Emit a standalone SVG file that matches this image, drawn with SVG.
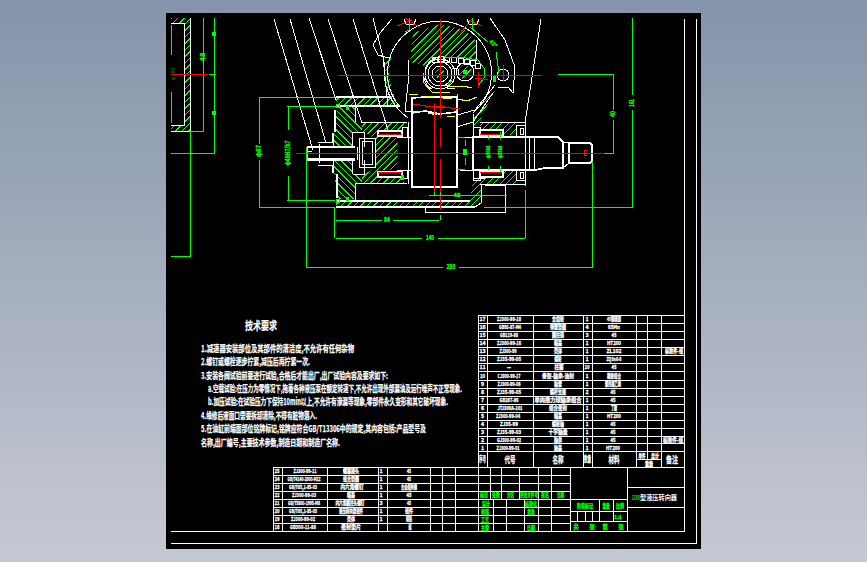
<svg xmlns="http://www.w3.org/2000/svg" width="867" height="562" viewBox="0 0 867 562" shape-rendering="crispEdges">
<style>
.w{fill:none;stroke:#fff;stroke-width:1}
.t{fill:none;stroke:#fff;stroke-width:1.6}
.g{fill:none;stroke:#0f0;stroke-width:1}
.r{fill:none;stroke:#f00;stroke-width:1}
.y{fill:none;stroke:#ff0;stroke-width:1}
.k{fill:#000;stroke:#fff;stroke-width:1}
.h{fill:none;stroke:#0f0;stroke-width:1300;stroke-dasharray:1 3.6}
.gf{fill:#0f0}
text{font-family:"Noto Sans CJK SC","Liberation Sans",sans-serif;font-weight:700}
.x{fill:#fff;stroke:#fff;stroke-width:.3;font-size:5.200px;text-anchor:middle}
.n{fill:#fff;stroke:#fff;stroke-width:.25;font-size:9px}
.d{fill:#0f0;stroke:#0f0;stroke-width:.3;font-size:6.500px;text-anchor:middle}
.c{fill:#0f0;stroke:#0f0;stroke-width:.3;font-size:5.200px;text-anchor:middle}
</style>
<defs>
<linearGradient id="bg" x1="0" y1="0" x2="0" y2="1"><stop offset="0" stop-color="#8494aa"/><stop offset="1" stop-color="#c6c9d3"/></linearGradient>
<clipPath id="cf">
<polygon points="171,18 190,18 190,131 171,131 171,125 184,125 184,23 171,23"/>
<polygon points="336,97 380,97 386,90 385,58 391,58 389,75 392,90 399,106 336,106"/>
<polygon points="336,201 470,201 473,178 485,178 482,185 481,203 475,207 336,207"/>
<polygon points="362,122 405,122 402,131 378,131 378,137 372,137 364,132 362,132"/>
<polygon points="362,183 405,183 402,177 378,177 378,170 372,170 364,174 362,174"/>
<polygon points="375,137 396,137 398,145 397,153 398,160 396,170 375,170"/>
<polygon points="480,122 516,122 516,135 503,135 503,130 480,130"/>
<polygon points="480,184 516,184 516,171 503,171 503,176 480,176"/>
<polygon points="473,114 495,85 495,91 482,115 480,122 473,127"/>
<polygon points="410,62 413,33 440,24 465,30 477,42 476,62 470,60 440,57 425,66"/>
<polygon points="465,63 474,72 465,81 456,72"/>
<circle cx="440" cy="74" r="5"/>
</clipPath>
<clipPath id="cb">
<polygon points="337,107 355,107 355,122 362,122 362,132 352,132 352,147 333,147 333,133 335,132 335,125"/>
<polygon points="337,199 355,199 355,183 362,183 362,174 352,174 352,160 333,160 333,173 335,175 335,181"/>
</clipPath>
</defs>
<rect width="867" height="562" fill="url(#bg)"/>
<rect x="166" y="13" width="535" height="536" fill="#000"/>

<g id="frame">
<path class="w" d="M684 19V531H171M696 19V543H171"/>
</g>

<g id="hatching">
<g clip-path="url(#cf)"><path class="h" d="M0 0L900 900"/></g>
<g clip-path="url(#cb)"><path class="h" d="M0 900L900 0"/></g>
</g>

<g id="left-section">
<path class="w" d="M190 18V131H171M171 23H184V125H171"/>
<path class="g" d="M171 25V55M171 92V123M203 18V131H190M214 18V153H171M190 131V256H171"/>
<text class="d" transform="translate(205,57) rotate(-90)" textLength="9" lengthAdjust="spacingAndGlyphs">48</text>
<rect class="gf" x="212" y="32" width="4" height="4"/>
<rect class="gf" x="212" y="111" width="4" height="4"/>
<text transform="translate(175,74) rotate(-90)" style="fill:#0a6a0a;font-size:5px;text-anchor:middle">φ300</text>
<path class="r" d="M171 74H208"/>
<path class="g" d="M209 74H216"/>
</g>

<g id="assembly">
<g id="outlines">
<path class="w" d="M274 19L312 147M290 19L326 143M309 18L336 100M328 19L362 123M353 19L388 130M373 18L383 57L388 107"/>
<path class="w" d="M392 19L380 33L373 45L378 55L385 57L391 58"/>
<path class="w" d="M400 107A52 52 0 1 1 473 113"/>
<path class="w" d="M408 118A57 57 0 0 1 385 62"/>
<path class="w" d="M490 18L505 40L515 67L513 93L508 87L498 87M541 19L525 123M408 60L409 75L405 111M405 111H412"/>
<path class="w" d="M477 40L476 62M457 115L475 110L495 85M457 127L473 122L493 93"/>
<path class="t" d="M336 97H391M336 106H400M335 110V132M337 174V198M336 201H470M336 207H475"/>
<path class="w" d="M473 178H485M482 185L481 203L475 207M485 185H505V212H425V207"/>
<path class="w" d="M355 107V122M362 122H407M355 183V200M355 183H407M408 122V184M402 127H407V137H402ZM402 170H407V178H402ZM397 137H412M397 170H412"/>
<path class="t" d="M378 131H402V136H378ZM378 172H402V177H378Z"/>
<path class="w" d="M352 132V147M352 160V174M353 132H364V147M353 174H364V160M333 133V147M333 160V173M359 138H375V167H359ZM362 141H372V164H362ZM357 147V160"/>
<path class="t" d="M307 147H355M307 160H355M307 147V160"/>
<path class="w" d="M318 142H332V133M318 165H332V173M319 144V163M307 158H355M312 147V150M307 151H312"/>
<path class="t" d="M412 98L425 97H457V187H412ZM412 113L425 111L440 114L457 112"/>
<path class="w" d="M473 114V178M473 127H480V136H473ZM473 170H480V180H473ZM480 122H525M516 125H525V136H516ZM516 170H525V180H516ZM480 184H525M525 122V186M520 128H523V134H520ZM520 172H523V178H520Z"/>
<path class="t" d="M480 130H503V135H480ZM480 172H503V177H480Z"/>
<path class="t" d="M473 137H558L563 142V168H545L535 170H473Z"/>
<path class="w" d="M529 137V170M534 137V170M563 142L569 143M563 168L569 163"/>
<path class="t" d="M569 143H590L592 145V161L590 163H569Z"/>
<path class="w" d="M460 137H473M460 170H473"/>
</g>

<g id="gear">
<circle class="k" cx="435" cy="60" r="3"/><circle class="k" cx="441" cy="59" r="3"/><circle class="k" cx="447" cy="60" r="3"/><circle class="k" cx="454" cy="60" r="3"/><circle class="k" cx="461" cy="61" r="3"/><circle class="k" cx="467" cy="62" r="3"/><circle class="k" cx="473" cy="63" r="3"/><circle class="k" cx="478" cy="66" r="3"/>
<path class="w" d="M425 70A17 17 0 0 1 440 57M424 78A16 16 0 0 0 432 89"/>
<circle class="w" cx="440" cy="74" r="15"/><circle class="w" cx="440" cy="74" r="12"/><circle class="w" cx="440" cy="74" r="8"/>
<circle class="w" cx="455" cy="72" r="4"/>
<circle class="w" cx="465" cy="72" r="9"/>
<rect class="gf" x="463" y="70" width="4" height="4"/>
<path class="g" d="M445 58L460 57L478 60L484 68L484 78L478 86M448 86L452 80"/>
<circle class="w" cx="503" cy="75" r="6"/>
<path class="w" d="M447 88H455"/>
</g>

<g id="yellow">
<path class="y" d="M409 94L418 95M425 96L433 97M443 98L452 98M457 94L458 99L467 101L477 97M413 111L420 112M428 113L437 115M447 116L455 116M445 85L453 87L463 86L472 88M423 73V82L432 92L450 93"/>
</g>

<g id="centrelines">
<path class="r" d="M338 75H542M440 19V118M440 128V147M440 159V210M434 103V195M425 106H445M296 153H603"/>
<path class="r" d="M413 104L433 107L442 107L460 109M478 72V88M475 78L488 80M503 65V82"/>
<path class="r" d="M378 134H402M378 172H402M480 134H502M480 172H502"/>
<path class="r" d="M587 150A3 3 0 0 0 587 156"/>
<path class="r" d="M397 26L412 20M419 27L405 18M460 33L473 18M482 26L467 20"/>
</g>

<g id="top-marks">
<path class="w" d="M404 19L406 24H414L416 19M467 19L469 24H477L479 19"/>
<path class="g" d="M409 18V30L405 32M472 18V30M470 27L488 42M496 52L499 73"/>
<text class="c" transform="translate(492,45) rotate(45)">45°</text>
<rect class="gf" x="493" y="76" width="3" height="6"/>
<circle cx="338" cy="106" r="2" fill="none" stroke="#0f0"/>
<circle cx="338" cy="201" r="2" fill="none" stroke="#0f0"/>
<rect class="gf" x="346" y="106" width="3" height="4"/>
<rect class="gf" x="346" y="197" width="3" height="4"/>
</g>
</g>

<g id="dimensions">
<path class="g" d="M259 97H335M259 207H335M259 97V144M259 160V207M287 106H337M287 200H335M288 106V130M288 176V200"/>
<text class="d" transform="translate(261,151) rotate(-90)" textLength="12" lengthAdjust="spacingAndGlyphs">φ87</text>
<text class="d" transform="translate(290,153) rotate(-90)" textLength="25" lengthAdjust="spacingAndGlyphs">φ48H7/h7</text>
<path class="g" d="M334 207V238M336 220H382M393 220H439M440 215V220M336 238H422M438 238H525M525 190V238"/>
<text class="d" x="387" y="222" textLength="6" lengthAdjust="spacingAndGlyphs">84</text>
<text class="d" x="430" y="240" textLength="8" lengthAdjust="spacingAndGlyphs">140</text>
<path class="g" d="M306.500 147V267H443M459 267H592M592 161V268"/>
<text class="d" x="451" y="269" textLength="9" lengthAdjust="spacingAndGlyphs">250</text>
<path class="g" d="M558 74H613V110M613 120V153H604M632 18V95M632 110V207H484"/>
<text class="d" transform="translate(615,114) rotate(-90)" textLength="6" lengthAdjust="spacingAndGlyphs">40</text>
<text class="d" transform="translate(634,103) rotate(-90)" textLength="8" lengthAdjust="spacingAndGlyphs">161</text>
<path class="g" d="M429 195H507M434 192V195M440 192V195M457 137H465M465 140V146M465 158V165M457 169H465"/>
<text class="c" x="457" y="197" textLength="7" lengthAdjust="spacingAndGlyphs">48</text>
<rect class="gf" x="463" y="149" width="4" height="6"/>
<path class="g" d="M488 135V139M488 166V170M500 132V139M500 166V172"/>
<text class="c" transform="translate(490,152) rotate(-90)" textLength="13" lengthAdjust="spacingAndGlyphs">φ30k6</text>
<text class="c" transform="translate(502,152) rotate(-90)" textLength="13" lengthAdjust="spacingAndGlyphs">φ35k6</text>
<rect class="gf" x="401" y="175" width="3" height="5"/>
</g>

<g id="requirements">
<text x="245" y="330" class="n" style="font-size:11px" textLength="32" lengthAdjust="spacingAndGlyphs">技术要求</text>
<text x="201" y="352" class="n" textLength="153" lengthAdjust="spacingAndGlyphs">1.减速器安装部位及其部件的清洁度,不允许有任何杂物</text>
<text x="201" y="365" class="n" textLength="109" lengthAdjust="spacingAndGlyphs">2.螺钉或螺栓逐步拧紧,减压后再拧紧一次.</text>
<text x="201" y="379" class="n" textLength="187" lengthAdjust="spacingAndGlyphs">3.安装各阀试验前要进行试验,合格后才能出厂,出厂试验内容及要求如下:</text>
<text x="208" y="392" class="n" textLength="254" lengthAdjust="spacingAndGlyphs">a.空载试验:在压力为零情况下,拖着各种液压泵在额定转速下,不允许出现外部漏油及运行噪声不正常现象.</text>
<text x="208" y="405" class="n" textLength="240" lengthAdjust="spacingAndGlyphs">b.加压试验:在试验压力下保持10min以上,不允许有渗漏等现象,零部件永久变形和其它破坏现象.</text>
<text x="201" y="419" class="n" textLength="116" lengthAdjust="spacingAndGlyphs">4.维修后液面口需要拆卸清除,不得有脏物落入.</text>
<text x="201" y="432" class="n" textLength="225" lengthAdjust="spacingAndGlyphs">5.在油缸前端面部位铭牌标记,铭牌应符合GB/T13306中的规定,其内容包括:产品型号及</text>
<text x="201" y="446" class="n" textLength="139" lengthAdjust="spacingAndGlyphs">名称,出厂编号,主要技术参数,制造日期和制造厂名称.</text>
</g>

<g id="parts-table">
<path class="w" d="M478 315H684M478 323H684M478 331H684M478 339H684M478 347H684M478 355H684M478 363H684M478 371H684M478 380H684M478 388H684M478 396H684M478 404H684M478 412H684M478 420H684M478 428H684M478 436H684M478 443H684M478 451H684M636 459H661M478 315V467M487 315V467M533 315V467M583 315V467M592 315V467M636 315V467M661 315V467M647 315V459"/>
<g>
<text class="x" x="482.500" y="321">17</text><text class="x" x="509" y="321" textLength="24" lengthAdjust="spacingAndGlyphs">ZJ300-99-18</text><text class="x" x="558" y="321" textLength="12" lengthAdjust="spacingAndGlyphs">全齿轮</text><text class="x" x="587" y="321">1</text><text class="x" x="614" y="321" textLength="14" lengthAdjust="spacingAndGlyphs">45钢调质</text>
<text class="x" x="482.500" y="329">16</text><text class="x" x="510" y="329" textLength="22" lengthAdjust="spacingAndGlyphs">GB93-87-M4</text><text class="x" x="558" y="329" textLength="16" lengthAdjust="spacingAndGlyphs">弹簧垫圈</text><text class="x" x="587" y="329">4</text><text class="x" x="614" y="329" textLength="12" lengthAdjust="spacingAndGlyphs">65Mn</text>
<text class="x" x="482.500" y="337">15</text><text class="x" x="509" y="337" textLength="18" lengthAdjust="spacingAndGlyphs">GB119-86</text><text class="x" x="558" y="337" textLength="12" lengthAdjust="spacingAndGlyphs">圆柱销</text><text class="x" x="587" y="337">3</text><text class="x" x="614" y="337" textLength="5" lengthAdjust="spacingAndGlyphs">45</text>
<text class="x" x="482.500" y="345">14</text><text class="x" x="509" y="345" textLength="24" lengthAdjust="spacingAndGlyphs">ZJ300-99-16</text><text class="x" x="558" y="345" textLength="8" lengthAdjust="spacingAndGlyphs">端盖</text><text class="x" x="587" y="345">1</text><text class="x" x="614" y="345" textLength="14" lengthAdjust="spacingAndGlyphs">HT200</text>
<text class="x" x="482.500" y="353">13</text><text class="x" x="508" y="353" textLength="17" lengthAdjust="spacingAndGlyphs">ZJ300-99</text><text class="x" x="558" y="353" textLength="8" lengthAdjust="spacingAndGlyphs">壳体</text><text class="x" x="587" y="353">1</text><text class="x" x="614" y="353" textLength="15" lengthAdjust="spacingAndGlyphs">ZL102</text><text class="x" x="674" y="353" textLength="18" lengthAdjust="spacingAndGlyphs">标准件-组</text>
<text class="x" x="482.500" y="361">12</text><text class="x" x="509" y="361" textLength="24" lengthAdjust="spacingAndGlyphs">ZJ35-99-05</text><text class="x" x="558" y="361" textLength="7" lengthAdjust="spacingAndGlyphs">蜗轮</text><text class="x" x="587" y="361">1</text><text class="x" x="614" y="361" textLength="15" lengthAdjust="spacingAndGlyphs">ZQSn6-6</text>
<text class="x" x="482.500" y="369">11</text><text class="x" x="509" y="369" textLength="4" lengthAdjust="spacingAndGlyphs">—</text><text class="x" x="559" y="369" textLength="9" lengthAdjust="spacingAndGlyphs">柱塞</text><text class="x" x="587" y="369" textLength="5" lengthAdjust="spacingAndGlyphs">10</text><text class="x" x="614" y="369" textLength="5" lengthAdjust="spacingAndGlyphs">45</text>
<text class="x" x="482.500" y="378" textLength="5" lengthAdjust="spacingAndGlyphs">10</text><text class="x" x="509" y="378" textLength="23" lengthAdjust="spacingAndGlyphs">CJ300-99-17</text><text class="x" x="558" y="378" textLength="32" lengthAdjust="spacingAndGlyphs">骨架-轴承-油封</text><text class="x" x="587" y="378">1</text><text class="x" x="614" y="378" textLength="14" lengthAdjust="spacingAndGlyphs">橡胶组合</text>
<text class="x" x="482.500" y="386">9</text><text class="x" x="509" y="386" textLength="23" lengthAdjust="spacingAndGlyphs">ZJ300-99-06</text><text class="x" x="558" y="386" textLength="8" lengthAdjust="spacingAndGlyphs">轴套</text><text class="x" x="587" y="386">1</text><text class="x" x="613" y="386" textLength="16" lengthAdjust="spacingAndGlyphs">聚四氟乙烯</text>
<text class="x" x="482.500" y="394">8</text><text class="x" x="509" y="394" textLength="24" lengthAdjust="spacingAndGlyphs">ZJ35-99-05</text><text class="x" x="558" y="394" textLength="16" lengthAdjust="spacingAndGlyphs">蜗杆支座</text><text class="x" x="587" y="394">2</text><text class="x" x="613" y="394" textLength="5" lengthAdjust="spacingAndGlyphs">45</text>
<text class="x" x="482.500" y="402">7</text><text class="x" x="509" y="402" textLength="19" lengthAdjust="spacingAndGlyphs">GB287-86</text><text class="x" x="558" y="402" textLength="47" lengthAdjust="spacingAndGlyphs">单向推力球轴承组合</text><text class="x" x="587" y="402">1</text><text class="x" x="613" y="402" textLength="5" lengthAdjust="spacingAndGlyphs">45</text>
<text class="x" x="482.500" y="410">6</text><text class="x" x="510" y="410" textLength="25" lengthAdjust="spacingAndGlyphs">JTJ300A-101</text><text class="x" x="558" y="410" textLength="18" lengthAdjust="spacingAndGlyphs">组合密封</text><text class="x" x="587" y="410">1</text><text class="x" x="614" y="410" textLength="6" lengthAdjust="spacingAndGlyphs">丁腈</text>
<text class="x" x="482.500" y="418">5</text><text class="x" x="508" y="418" textLength="24" lengthAdjust="spacingAndGlyphs">ZJ300-99-04</text><text class="x" x="558" y="418" textLength="8" lengthAdjust="spacingAndGlyphs">端盖</text><text class="x" x="587" y="418">1</text><text class="x" x="614" y="418" textLength="14" lengthAdjust="spacingAndGlyphs">HT200</text>
<text class="x" x="482.500" y="426">4</text><text class="x" x="509" y="426" textLength="18" lengthAdjust="spacingAndGlyphs">ZJ35-99</text><text class="x" x="558" y="426" textLength="12" lengthAdjust="spacingAndGlyphs">蜗轮轴</text><text class="x" x="587" y="426">1</text><text class="x" x="613" y="426" textLength="5" lengthAdjust="spacingAndGlyphs">45</text>
<text class="x" x="482.500" y="434">3</text><text class="x" x="509" y="434" textLength="24" lengthAdjust="spacingAndGlyphs">ZJ35-99-03</text><text class="x" x="558" y="434" textLength="19" lengthAdjust="spacingAndGlyphs">十字轴盘</text><text class="x" x="587" y="434">1</text><text class="x" x="613" y="434" textLength="5" lengthAdjust="spacingAndGlyphs">45</text>
<text class="x" x="482.500" y="441.500">2</text><text class="x" x="509" y="441.500" textLength="24" lengthAdjust="spacingAndGlyphs">GJ300-99-02</text><text class="x" x="558" y="441.500" textLength="8" lengthAdjust="spacingAndGlyphs">轴承</text><text class="x" x="587" y="441.500">1</text><text class="x" x="613" y="441.500" textLength="5" lengthAdjust="spacingAndGlyphs">45</text><text class="x" x="673" y="441.500" textLength="20" lengthAdjust="spacingAndGlyphs">标准件-组</text>
<text class="x" x="482.500" y="449.500">1</text><text class="x" x="508" y="449.500" textLength="23" lengthAdjust="spacingAndGlyphs">ZJ300-99-01</text><text class="x" x="558" y="449.500" textLength="8" lengthAdjust="spacingAndGlyphs">轴盖</text><text class="x" x="587" y="449.500">1</text><text class="x" x="613" y="449.500" textLength="14" lengthAdjust="spacingAndGlyphs">HT200</text>
<text class="x" x="482.500" y="462" style="font-size:8px" textLength="7" lengthAdjust="spacingAndGlyphs">序号</text><text class="x" x="510" y="463" style="font-size:9px" textLength="11" lengthAdjust="spacingAndGlyphs">代号</text><text class="x" x="558" y="463" style="font-size:9px" textLength="11" lengthAdjust="spacingAndGlyphs">名称</text><text class="x" x="587.500" y="462" style="font-size:8px" textLength="7" lengthAdjust="spacingAndGlyphs">数量</text><text class="x" x="614" y="463" style="font-size:9px" textLength="11" lengthAdjust="spacingAndGlyphs">材料</text><text class="x" x="642" y="457.500" textLength="7" lengthAdjust="spacingAndGlyphs">单件</text><text class="x" x="655" y="457.500" textLength="8" lengthAdjust="spacingAndGlyphs">总计</text><text class="x" x="649" y="465.500" textLength="8" lengthAdjust="spacingAndGlyphs">重量</text><text class="x" x="672" y="463" style="font-size:9px" textLength="12" lengthAdjust="spacingAndGlyphs">备注</text>
</g>
</g>

<g id="lower-table">
<path class="w" d="M273 467H684M273 475H570M273 483H570M273 491H570M273 499H570M273 507H570M273 515H570M273 523H570M273 467V531M282 467V531M327 467V531M378 467V531M387 467V531M430 467V531M442 467V531M455 467V531M478 467V531M490 467V499M501 467V499M519 467V499M538 467V531M551 467V531M570 467V531M493 499V531M506 499V531M524 499V531M627 467V531M570 499H627M570 511H627M570 521H627M577 511V521M585 511V521M592 511V521M599 499V521M613 499V521M627 487H684M627 507H684"/>
<text class="x" x="277" y="473" textLength="5" lengthAdjust="spacingAndGlyphs">25</text><text class="x" x="305" y="473" textLength="23" lengthAdjust="spacingAndGlyphs">ZJ300-99-11</text><text class="x" x="351" y="473" textLength="16" lengthAdjust="spacingAndGlyphs">螺塞接头</text><text class="x" x="381" y="473">1</text><text class="x" x="409" y="473" textLength="4" lengthAdjust="spacingAndGlyphs">45</text>
<text class="x" x="277" y="481" textLength="5" lengthAdjust="spacingAndGlyphs">24</text><text class="x" x="304" y="481" textLength="33" lengthAdjust="spacingAndGlyphs">GB/T4140-2000-M22</text><text class="x" x="351" y="481" textLength="16" lengthAdjust="spacingAndGlyphs">组合垫圈</text><text class="x" x="381" y="481">1</text><text class="x" x="409" y="481" textLength="4" lengthAdjust="spacingAndGlyphs">45</text>
<text class="x" x="277" y="489" textLength="5" lengthAdjust="spacingAndGlyphs">23</text><text class="x" x="303" y="489" textLength="28" lengthAdjust="spacingAndGlyphs">GB/T85,1-85-03</text><text class="x" x="352" y="489" textLength="23" lengthAdjust="spacingAndGlyphs">内六角螺钉</text><text class="x" x="381" y="489">1</text><text class="x" x="409" y="489" textLength="16" lengthAdjust="spacingAndGlyphs">合金结构钢</text>
<text class="x" x="277" y="497" textLength="5" lengthAdjust="spacingAndGlyphs">22</text><text class="x" x="304" y="497" textLength="24" lengthAdjust="spacingAndGlyphs">ZJ300-99-03</text><text class="x" x="351" y="497" textLength="8" lengthAdjust="spacingAndGlyphs">端盖</text><text class="x" x="381" y="497">1</text><text class="x" x="409" y="497" textLength="5" lengthAdjust="spacingAndGlyphs">45</text>
<text class="x" x="277" y="505" textLength="5" lengthAdjust="spacingAndGlyphs">21</text><text class="x" x="304" y="505" textLength="32" lengthAdjust="spacingAndGlyphs">GB/T5800-1995-M8</text><text class="x" x="350" y="505" textLength="29" lengthAdjust="spacingAndGlyphs">内六角圆柱头螺钉</text><text class="x" x="381" y="505">3</text><text class="x" x="409" y="505" textLength="4" lengthAdjust="spacingAndGlyphs">45</text>
<text class="x" x="277" y="513" textLength="5" lengthAdjust="spacingAndGlyphs">20</text><text class="x" x="303" y="513" textLength="28" lengthAdjust="spacingAndGlyphs">GB/T85,1-85-03</text><text class="x" x="351" y="513" textLength="24" lengthAdjust="spacingAndGlyphs">液压转向器组件</text><text class="x" x="381" y="513">1</text><text class="x" x="409" y="513" textLength="8" lengthAdjust="spacingAndGlyphs">组件</text>
<text class="x" x="277" y="521" textLength="5" lengthAdjust="spacingAndGlyphs">19</text><text class="x" x="303" y="521" textLength="24" lengthAdjust="spacingAndGlyphs">ZJ300-99-02</text><text class="x" x="351" y="521" textLength="8" lengthAdjust="spacingAndGlyphs">壳体</text><text class="x" x="381" y="521">1</text><text class="x" x="409" y="521" textLength="6" lengthAdjust="spacingAndGlyphs">铸铁</text>
<text class="x" x="277" y="529" textLength="5" lengthAdjust="spacingAndGlyphs">18</text><text class="x" x="303" y="529" textLength="26" lengthAdjust="spacingAndGlyphs">GB300-11-88</text><text class="x" x="351" y="529" textLength="20" lengthAdjust="spacingAndGlyphs">密封垫片</text><text class="x" x="410" y="529" textLength="3" lengthAdjust="spacingAndGlyphs">纸</text>
</g>

<g id="title-block">
<text class="c" x="484" y="497" textLength="8" lengthAdjust="spacingAndGlyphs">标记</text><text class="c" x="496" y="497" textLength="8" lengthAdjust="spacingAndGlyphs">处数</text><text class="c" x="510.500" y="497" textLength="7" lengthAdjust="spacingAndGlyphs">分区</text><text class="c" x="529" y="497" textLength="18" lengthAdjust="spacingAndGlyphs">更改文件号</text><text class="c" x="545" y="497" textLength="8" lengthAdjust="spacingAndGlyphs">签名</text><text class="c" x="560.500" y="497" textLength="7" lengthAdjust="spacingAndGlyphs">日期</text>
<text class="c" x="486" y="505.500" textLength="8" lengthAdjust="spacingAndGlyphs">设计</text><text class="c" x="531" y="505.500" textLength="12" lengthAdjust="spacingAndGlyphs">标准化</text>
<text class="c" x="485" y="513.500" textLength="8" lengthAdjust="spacingAndGlyphs">审核</text><text class="c" x="531" y="513.500" textLength="7" lengthAdjust="spacingAndGlyphs">批准</text>
<text class="c" x="485" y="521.500" textLength="8" lengthAdjust="spacingAndGlyphs">工艺</text>
<text class="c" x="485" y="529.500" textLength="8" lengthAdjust="spacingAndGlyphs">主管</text><text class="c" x="531" y="529.500" textLength="8" lengthAdjust="spacingAndGlyphs">日期</text>
<text class="c" x="585" y="507.500" textLength="16" lengthAdjust="spacingAndGlyphs">阶段标记</text><text class="c" x="606" y="507.500" textLength="7" lengthAdjust="spacingAndGlyphs">重量</text><text class="c" x="620" y="507.500" textLength="8" lengthAdjust="spacingAndGlyphs">比例</text><text class="c" x="618" y="518.500" textLength="8" lengthAdjust="spacingAndGlyphs">1:1</text>
<text class="c" x="576" y="528.500">共</text><text class="c" x="592" y="528.500">张</text><text class="c" x="605" y="528.500">第</text><text class="c" x="621" y="528.500">张</text>
<text x="632" y="499.500" style="font-size:6px;fill:#0f0" textLength="8" lengthAdjust="spacingAndGlyphs">ZJ300</text><text x="640" y="500" style="font-size:7px;fill:#fff" textLength="37" lengthAdjust="spacingAndGlyphs">型液压转向器</text>
</g>
</svg>
